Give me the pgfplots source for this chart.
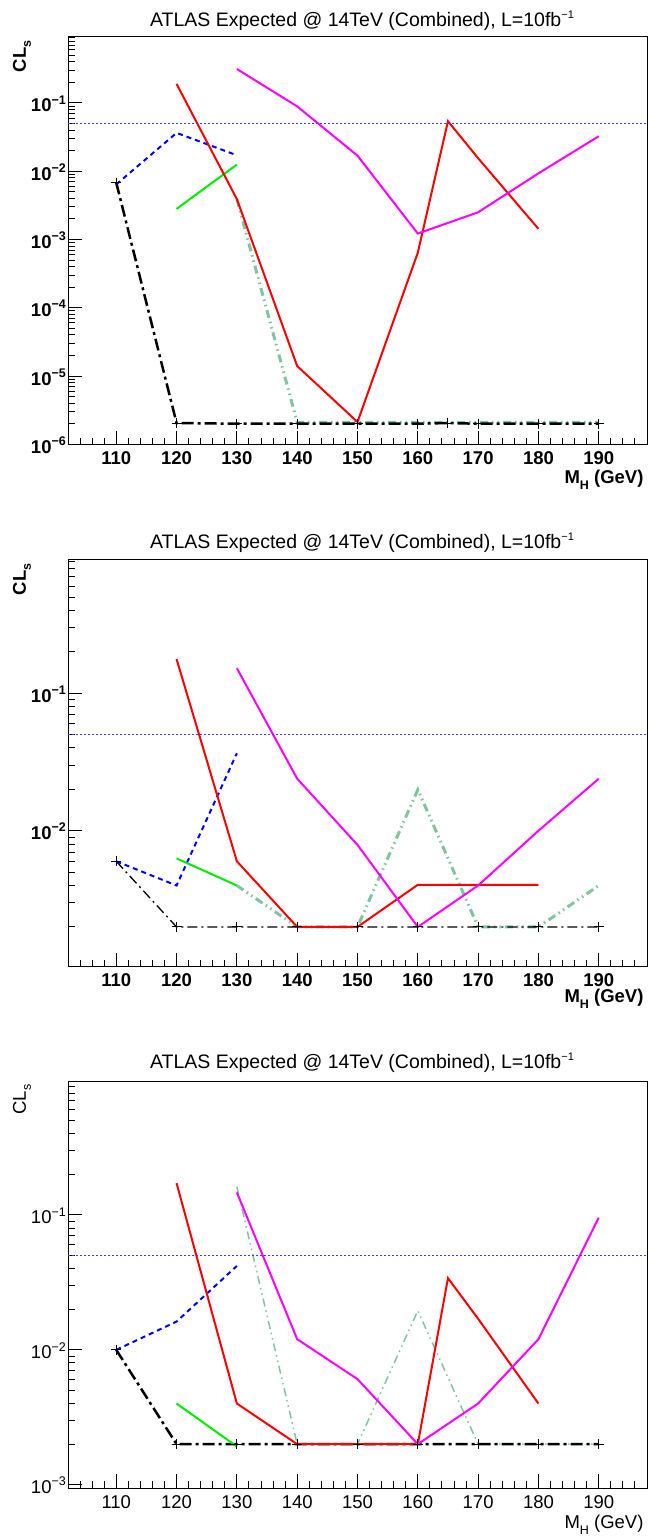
\documentclass[border=0pt]{standalone}
\usepackage{fontspec}
\setmainfont{Liberation Sans}
\usepackage{pgfplots}
\pgfplotsset{compat=1.18}
\definecolor{cgrey}{RGB}{128,196,160}
\definecolor{cdot}{RGB}{60,60,255}
\definecolor{cgreen}{RGB}{0,235,0}
\definecolor{cmag}{RGB}{255,0,255}
\newcommand{\sups}[2][12.5]{\raisebox{0.42em}{\fontsize{#1}{#1}\selectfont #2}}
\newcommand{\subs}[2][12.5]{\raisebox{-0.28em}{\fontsize{#1}{#1}\selectfont #2}}
\newcommand{\TT}{\fontsize{19.5}{20}\selectfont}
\newcommand{\LB}{\fontsize{18.5}{19}\selectfont}
\begin{document}
\begin{tikzpicture}
\useasboundingbox (0pt,0pt) rectangle (649pt,1536pt);
% ---------------- Panel 1
\begin{axis}[at={(68pt,1091pt)}, anchor=south west,
  scale only axis, width=579pt, height=408pt,
  xmin=102, xmax=198, ymode=log,
  ymin=0.977e-6, ymax=0.924,
  axis line style={line width=1pt},
  tick align=inside, xtick pos=bottom, ytick pos=left,
  major tick length=14pt, minor tick length=7pt,
  tick style={black, line width=1pt},
  xtick={110,120,130,140,150,160,170,180,190},
  minor xtick={104,106,108,110,112,114,116,118,120,122,124,126,128,130,132,134,136,138,140,142,144,146,148,150,152,154,156,158,160,162,164,166,168,170,172,174,176,178,180,182,184,186,188,190,192,194,196},
  xticklabels={110,120,130,140,150,160,170,180,190},
  ytick={1e-6,1e-5,1e-4,1e-3,1e-2,1e-1},
  yticklabels={10\sups{−6},10\sups{−5},10\sups{−4},10\sups{−3},10\sups{−2},10\sups{−1}},
  minor ytick={2e-6,3e-6,4e-6,5e-6,6e-6,7e-6,8e-6,9e-6,2e-5,3e-5,4e-5,5e-5,6e-5,7e-5,8e-5,9e-5,2e-4,3e-4,4e-4,5e-4,6e-4,7e-4,8e-4,9e-4,2e-3,3e-3,4e-3,5e-3,6e-3,7e-3,8e-3,9e-3,2e-2,3e-2,4e-2,5e-2,6e-2,7e-2,8e-2,9e-2,0.2,0.3,0.4,0.5,0.6,0.7,0.8,0.9},
  xticklabel style={anchor=base, yshift=-20pt, inner sep=0pt, font=\LB\bfseries},
  yticklabel style={anchor=base east, inner sep=0pt, xshift=-2pt, yshift=-9pt, font=\LB\bfseries}]
\addplot[cgrey, line width=3pt, dash pattern=on 8pt off 4pt on 1.5pt off 4pt on 1.5pt off 4pt] coordinates {(130,3.9e-3) (140,2.1e-6) (150,2.1e-6) (160,2.1e-6) (170,2.1e-6) (180,2.1e-6) (190,2.1e-6)};
\addplot[black, line width=2.5pt, dash pattern=on 12pt off 4pt on 3pt off 4pt, mark=+, mark size=5pt, mark options={solid, line width=1pt}] coordinates {(110,6.8e-3) (120,2.05e-6) (130,2e-6) (140,2e-6) (150,2e-6) (160,2e-6) (165,2.05e-6) (170,2e-6) (180,2e-6) (190,2e-6)};
\addplot[blue, line width=2pt, dash pattern=on 5pt off 4pt] coordinates {(110,6.4e-3) (120,0.0364) (130,0.0171)};
\addplot[cgreen, line width=2pt] coordinates {(120,2.8e-3) (130,0.0125)};
\addplot[red, line width=2pt] coordinates {(120,0.19) (130,3.9e-3) (140,1.4e-5) (150,2.12e-6) (160,6.4e-4) (165,0.054) (170,0.0155) (180,1.43e-3)};
\addplot[cmag, line width=2pt] coordinates {(130,0.314) (140,0.089) (150,0.0169) (160,1.22e-3) (170,2.5e-3) (180,9.3e-3) (190,0.0325)};
\addplot[cdot, line width=1.4pt, dash pattern=on 2pt off 2pt] coordinates {(102,0.05) (198,0.05)};
\end{axis}
\node[anchor=base, font=\TT] at (362pt,1509pt) {ATLAS Expected @ 14TeV (Combined), L=10fb\sups[11]{−1}};
\node[rotate=90, anchor=east, font=\LB\bfseries] at (22pt,1499pt) {CL\subs{s}};
\node[anchor=base east, font=\LB\bfseries] at (647pt,1052pt) {M\subs{H} (GeV)};
% ---------------- Panel 2
\begin{axis}[at={(68pt,569pt)}, anchor=south west,
  scale only axis, width=579pt, height=407pt,
  xmin=102, xmax=198, ymode=log,
  ymin=1.023e-3, ymax=0.929,
  axis line style={line width=1pt},
  tick align=inside, xtick pos=bottom, ytick pos=left,
  major tick length=14pt, minor tick length=7pt,
  tick style={black, line width=1pt},
  xtick={110,120,130,140,150,160,170,180,190},
  minor xtick={104,106,108,110,112,114,116,118,120,122,124,126,128,130,132,134,136,138,140,142,144,146,148,150,152,154,156,158,160,162,164,166,168,170,172,174,176,178,180,182,184,186,188,190,192,194,196},
  xticklabels={110,120,130,140,150,160,170,180,190},
  ytick={1e-2,1e-1},
  yticklabels={10\sups{−2},10\sups{−1}},
  minor ytick={2e-3,3e-3,4e-3,5e-3,6e-3,7e-3,8e-3,9e-3,2e-2,3e-2,4e-2,5e-2,6e-2,7e-2,8e-2,9e-2,0.2,0.3,0.4,0.5,0.6,0.7,0.8,0.9},
  xticklabel style={anchor=base, yshift=-20pt, inner sep=0pt, font=\LB\bfseries},
  yticklabel style={anchor=base east, inner sep=0pt, xshift=-2pt, yshift=-9pt, font=\LB\bfseries}]
\addplot[cgrey, line width=3pt, dash pattern=on 8pt off 4pt on 1.5pt off 4pt on 1.5pt off 4pt] coordinates {(130,4e-3) (140,2e-3) (150,2e-3) (160,0.0199) (170,2e-3) (180,2e-3) (190,4e-3)};
\addplot[black, line width=1.3pt, dash pattern=on 10pt off 4pt on 2pt off 4pt, mark=+, mark size=5pt, mark options={solid, line width=1pt}] coordinates {(110,6e-3) (120,2e-3) (130,2e-3) (140,2e-3) (150,2e-3) (160,2e-3) (170,2e-3) (180,2e-3) (190,2e-3)};
\addplot[blue, line width=2pt, dash pattern=on 5pt off 4pt] coordinates {(110,6e-3) (120,4e-3) (130,0.0366)};
\addplot[cgreen, line width=2pt] coordinates {(120,6.3e-3) (130,4e-3)};
\addplot[red, line width=2pt] coordinates {(120,0.177) (130,6.0e-3) (140,2e-3) (150,2e-3) (160,4.05e-3) (170,4.05e-3) (180,4.05e-3)};
\addplot[cmag, line width=2pt] coordinates {(130,0.152) (140,0.0239) (150,7.9e-3) (160,2e-3) (170,4e-3) (180,0.01) (190,0.0239)};
\addplot[cdot, line width=1.4pt, dash pattern=on 2pt off 2pt] coordinates {(102,0.05) (198,0.05)};
\end{axis}
\node[anchor=base, font=\TT] at (362pt,987pt) {ATLAS Expected @ 14TeV (Combined), L=10fb\sups[11]{−1}};
\node[rotate=90, anchor=east, font=\LB\bfseries] at (22pt,976pt) {CL\subs{s}};
\node[anchor=base east, font=\LB\bfseries] at (647pt,533pt) {M\subs{H} (GeV)};
% ---------------- Panel 3
\begin{axis}[at={(68pt,48pt)}, anchor=south west,
  scale only axis, width=579pt, height=407pt,
  xmin=102, xmax=198, ymode=log,
  ymin=0.946e-3, ymax=0.984,
  axis line style={line width=1pt},
  tick align=inside, xtick pos=bottom, ytick pos=left,
  major tick length=14pt, minor tick length=7pt,
  tick style={black, line width=1pt},
  xtick={110,120,130,140,150,160,170,180,190},
  minor xtick={104,106,108,110,112,114,116,118,120,122,124,126,128,130,132,134,136,138,140,142,144,146,148,150,152,154,156,158,160,162,164,166,168,170,172,174,176,178,180,182,184,186,188,190,192,194,196},
  xticklabels={110,120,130,140,150,160,170,180,190},
  ytick={1e-3,1e-2,1e-1},
  yticklabels={10\sups{−3},10\sups{−2},10\sups{−1}},
  minor ytick={2e-3,3e-3,4e-3,5e-3,6e-3,7e-3,8e-3,9e-3,2e-2,3e-2,4e-2,5e-2,6e-2,7e-2,8e-2,9e-2,0.2,0.3,0.4,0.5,0.6,0.7,0.8,0.9},
  xticklabel style={anchor=base, yshift=-20pt, inner sep=0pt, font=\LB},
  yticklabel style={anchor=base east, inner sep=0pt, xshift=-2pt, yshift=-9pt, font=\LB}]
\addplot[cgrey, line width=1.5pt, dash pattern=on 8pt off 4pt on 1.5pt off 4pt on 1.5pt off 4pt] coordinates {(130,0.162) (140,2e-3) (150,2e-3) (160,0.0195) (170,2e-3) (180,2e-3) (190,2e-3)};
\addplot[black, line width=2.5pt, dash pattern=on 12pt off 4pt on 3pt off 4pt, mark=+, mark size=5pt, mark options={solid, line width=1pt}] coordinates {(110,0.01) (120,2e-3) (130,2e-3) (140,2e-3) (150,2e-3) (160,2e-3) (170,2e-3) (180,2e-3) (190,2e-3)};
\addplot[blue, line width=2pt, dash pattern=on 5pt off 4pt] coordinates {(110,0.01) (120,0.0162) (130,0.0419)};
\addplot[cgreen, line width=2pt] coordinates {(120,4e-3) (130,1.92e-3)};
\addplot[red, line width=2pt] coordinates {(120,0.172) (130,4e-3) (140,2e-3) (150,2e-3) (160,2e-3) (165,0.034) (170,0.017) (180,4e-3)};
\addplot[cmag, line width=2pt] coordinates {(130,0.147) (140,0.012) (150,6.07e-3) (160,2e-3) (170,4e-3) (180,0.012) (190,0.0955)};
\addplot[cdot, line width=1.4pt, dash pattern=on 2pt off 2pt] coordinates {(102,0.05) (198,0.05)};
\end{axis}
\node[anchor=base, font=\TT] at (362pt,467pt) {ATLAS Expected @ 14TeV (Combined), L=10fb\sups[11]{−1}};
\node[rotate=90, anchor=east, font=\LB] at (22pt,455pt) {CL\subs{s}};
\node[anchor=base east, font=\LB] at (647pt,7pt) {M\subs{H} (GeV)};
\end{tikzpicture}
\end{document}
